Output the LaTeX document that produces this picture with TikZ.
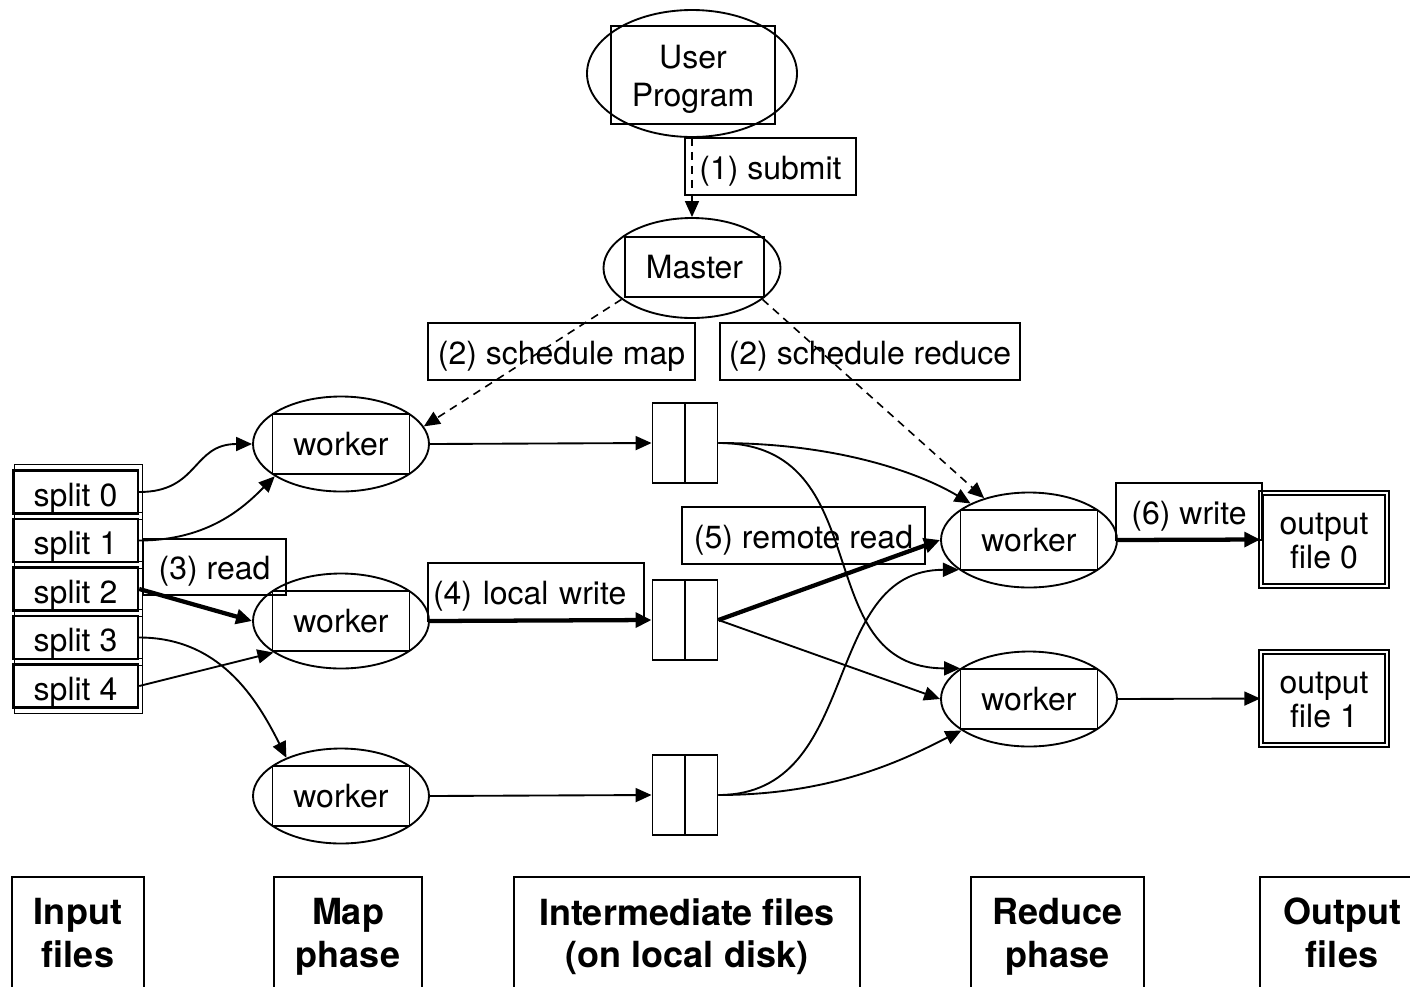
\documentclass[tikz,border=0pt]{standalone}
\usepackage{fontspec}
\setmainfont{TeX Gyre Heros}
\usetikzlibrary{shapes.geometric,arrows.meta}
\begin{document}
\begin{tikzpicture}[x=0.75pt,y=-0.75pt,
  every node/.style={inner sep=0pt, font=\fontsize{24}{28.5}\selectfont},
  ln/.style={line width=1.4pt},
  ell/.style={draw, ellipse, line width=1.4pt, inner sep=0pt},
  rbox/.style={draw, rectangle, line width=1.4pt, align=center},
  lbl/.style={draw, rectangle, line width=1.4pt, text height=19pt, text depth=0pt},
  wk/.style={rbox, minimum width=102.75pt, minimum height=45pt},
  wkell/.style={ell, minimum width=132pt, minimum height=71.25pt},
  inter/.style={draw, rectangle, line width=1.4pt, minimum width=48.75pt, minimum height=60pt},
  splitbox/.style={draw, rectangle, line width=1.8pt, minimum width=93.75pt, minimum height=32.25pt, text height=21pt, text depth=0pt},
  outbox/.style={draw, rectangle, double, double distance=1.8pt, line width=1.1pt, minimum width=94.5pt, minimum height=69.75pt, align=center, font=\fontsize{24}{25.5}\selectfont},
  arr/.style={line width=1.4pt, -{Triangle[length=12pt,width=10.5pt]}},
  tarr/.style={line width=3.2pt, -{Triangle[length=12pt,width=11pt]}},
  darr/.style={line width=1.2pt, dash pattern=on 6pt off 4.5pt, -{Triangle[length=12pt,width=10.5pt]}},
  phase/.style={font=\fontsize{27}{32}\selectfont\bfseries, align=center, minimum height=84pt}
]
\useasboundingbox (0,0) rectangle (1410,986);

% User program and master
\node[ell, minimum width=157.5pt, minimum height=95.25pt] (up) at (692,73.5) {};
\node[rbox, minimum width=123pt, minimum height=73.5pt] (upb) at (693,75) {\rule{0pt}{24.7pt}User\\Program};
\node[lbl, minimum width=128.25pt, minimum height=42.75pt] (sub) at (770.5,166.5) {(1) submit};
\node[ell, minimum width=132.75pt, minimum height=75pt] (ms) at (692,268) {};
\node[rbox, minimum width=104.25pt, minimum height=45pt] (msb) at (694.5,267) {Master};
\draw[darr] (up.south) -- (ms.north);

\node[lbl, minimum width=200.25pt, minimum height=42.75pt] (sm) at (561.5,351.5) {(2) schedule map};
\node[lbl, minimum width=225pt, minimum height=42.75pt] (sr) at (870,351.5) {(2) schedule reduce};

% splits
\foreach \k in {0,...,4}{
  \node[splitbox] (s\k) at (75.5,492+48.5*\k) {split \k};
  \draw[line width=0.9pt] ([shift={(3,-5)}]s\k.north west) rectangle ([shift={(3,5)}]s\k.south east);
}

% map workers
\node[wkell] (mw1) at (341,444) {};
\node[wk] (mw1b) at (341,444) {worker};
\node[wkell] (mw2) at (341,621) {};
\node[wk] (mw2b) at (341,621) {worker};
\node[wkell] (mw3) at (341,796) {};
\node[wk] (mw3b) at (341,796) {worker};

% intermediate files
\node[inter] (im1) at (685,443) {};
\node[inter] (im2) at (685,620) {};
\node[inter] (im3) at (685,795) {};
\foreach \i in {1,2,3}{\draw[ln] (im\i.north) -- (im\i.south);}

% reduce workers
\node[wkell] (rw1) at (1029,540) {};
\node[wk] (rw1b) at (1029,540) {worker};
\node[wkell] (rw2) at (1029,699) {};
\node[wk] (rw2b) at (1029,699) {worker};

% outputs
\node[outbox] (out0) at (1324,539.5) {\rule{0pt}{18pt}output\\file 0};
\node[outbox] (out1) at (1324,698.5) {\rule{0pt}{18pt}output\\file 1};

% labels
\node[lbl, minimum width=107.25pt, minimum height=42pt] (rd) at (214.5,567) {(3) read};
\node[lbl, text width=154.5pt, inner xsep=3.75pt, align=left, minimum height=43.5pt] (lw) at (536,592) {(4) local write};
\node[lbl, minimum width=182.25pt, minimum height=42.75pt] (rr) at (803.5,535.5) {(5) remote read};
\node[lbl, minimum width=109.5pt, minimum height=42.75pt] (wr) at (1189,511.5) {(6) write};

% dashed schedule arrows
\draw[darr] (ms.204) -- (mw1.12);
\draw[darr] (ms.336) -- (rw1.137);

% split connectors
\draw[arr] (s0.east) .. controls +(60,0) and +(-60,0) .. (mw1.west);
\draw[arr] (s1.east) .. controls +(70,0) and +(-30,30) .. (mw1.206);
\draw[tarr] (s2.east) -- (mw2.west);
\draw[arr] (s3.east) .. controls +(80,0) and +(-30,-60) .. (mw3.145);
\draw[arr] (s4.east) -- (mw2.205);

% map to intermediate
\draw[arr] (mw1.east) -- (im1.west);
\draw[tarr] (mw2.east) -- (im2.west);
\draw[arr] (mw3.east) -- (im3.west);

% intermediate to reduce
\draw[arr] (im1.east) .. controls +(120,0) and +(-50,-30) .. (rw1.148);
\draw[arr] (im1.east) .. controls +(163,0) and +(-155,0) .. (rw2.156);
\draw[tarr] (im2.east) -- (rw1.west);
\draw[arr] (im2.east) -- (rw2.west);
\draw[arr] (im3.east) .. controls +(145,0) and +(-140,0) .. (rw1.203);
\draw[arr] (im3.east) .. controls +(120,0) and +(-50,25) .. (rw2.205);

% reduce to output
\draw[tarr] (rw1.east) -- (out0.west);
\draw[arr] (rw2.east) -- (out1.west);

% phase labels
\node[phase, minimum width=99pt] (b1) at (78,933) {Input\\files};
\node[phase, minimum width=111pt] (b2) at (348,933) {\rule{0pt}{25.5pt}Map\\phase};
\node[phase, minimum width=259.5pt] (b3) at (687,933) {\rule{0pt}{25.5pt}Intermediate files\\(on local disk)};
\node[phase, minimum width=129.75pt] (b4) at (1057.5,933) {\rule{0pt}{25.5pt}Reduce\\phase};
\node[phase, minimum width=123pt] (b5) at (1342,933) {Output\\files};
\foreach \b in {b1,b2,b3,b4,b5}{
  \draw[ln] (\b.south west) -- (\b.north west) -- (\b.north east) -- (\b.south east);
}
\end{tikzpicture}
\end{document}
